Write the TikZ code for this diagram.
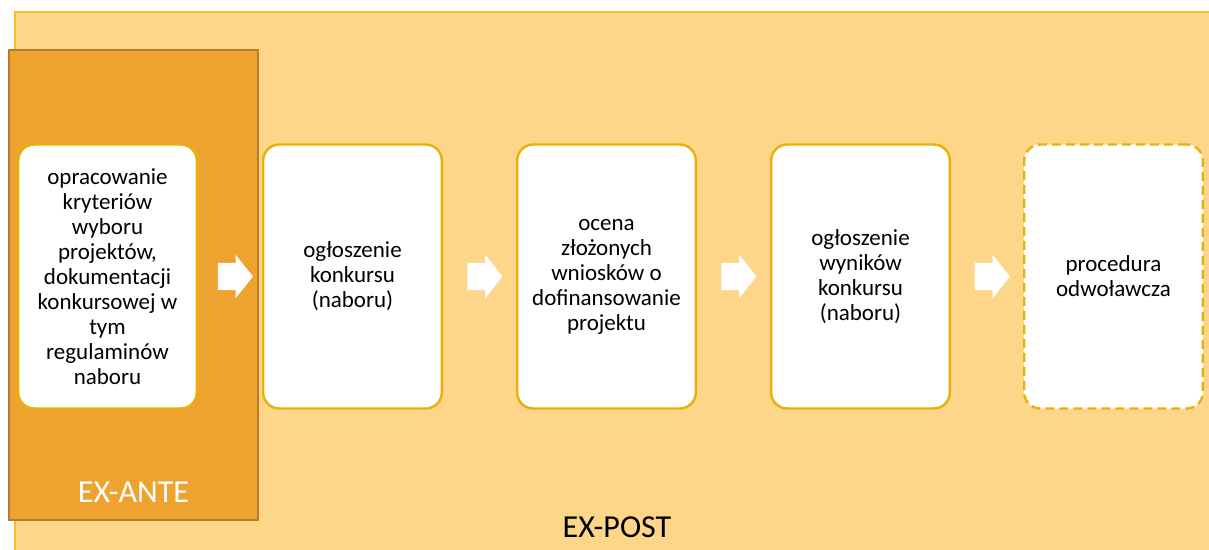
\documentclass[tikz,border=0pt]{standalone}
\usepackage{fontspec}
\setmainfont{Carlito}
\usetikzlibrary{positioning}
\usetikzlibrary{calc}
\usetikzlibrary{shapes.arrows}
\definecolor{tlo}{RGB}{253,214,138}
\definecolor{ramka}{RGB}{244,190,40}
\definecolor{ante}{RGB}{238,163,48}
\definecolor{anteramka}{RGB}{185,125,42}
\definecolor{zloty}{RGB}{232,176,10}

\tikzset{
  krok/.style={draw=zloty, fill=white, line width=2.4pt, rounded corners=16pt,
    minimum width=178.6pt, minimum height=264pt, align=center, inner sep=2pt,
    font=\fontsize{23}{25}\selectfont},
  strzalka/.style={single arrow, fill=white, draw=none, inner xsep=0pt, inner ysep=13.5pt,
    minimum width=43pt, minimum height=35pt, single arrow head extend=8pt,
    single arrow tip angle=103, single arrow head indent=0pt},
  etykieta/.style={font=\fontsize{32}{34}\selectfont}
}

\begin{document}
\begin{tikzpicture}[x=1pt,y=-1pt]
        \useasboundingbox (0,0) rectangle (1209,549);
        \clip (0,0) rectangle (1209,549);
        % background %
        \fill[white] (0,0) rectangle (1209,549);
        \draw[fill=tlo, draw=ramka, line width=2pt] (15,12) rectangle (1230,570);
        \draw[fill=ante, draw=anteramka, line width=2pt] (9,50) rectangle (258,520);
        % nodes %
        \node[krok] (opr) at (107.5,276.5) {opracowanie\\ kryteriów\\ wyboru\\ projektów,\\ dokumentacji\\ konkursowej w\\ tym\\ regulaminów\\ naboru};
        \node[krok, right=64pt of opr] (ogl) {ogłoszenie\\ konkursu\\ (naboru)};
        \node[krok, right=73pt of ogl] (ocena) {ocena\\ złożonych\\ wniosków o\\ dofinansowanie\\ projektu};
        \node[krok, right=73pt of ocena] (wyn) {ogłoszenie\\ wyników\\ konkursu\\ (naboru)};
        \node[krok, dash pattern=on 9pt off 5pt, right=72pt of wyn] (odw) {procedura\\ odwoławcza};
        \node[etykieta, text=white] (exante) at (133.5,492) {EX-ANTE};
        \node[etykieta] (expost) at (617,527) {EX-POST};
        % edges %
        \node[strzalka] (s1) at ($(opr.east)!0.5!(ogl.west)$) {};
        \node[strzalka] (s2) at ($(ogl.east)!0.5!(ocena.west)$) {};
        \node[strzalka] (s3) at ($(ocena.east)!0.5!(wyn.west)$) {};
        \node[strzalka] (s4) at ($(wyn.east)!0.5!(odw.west)$) {};
\end{tikzpicture}
\end{document}
